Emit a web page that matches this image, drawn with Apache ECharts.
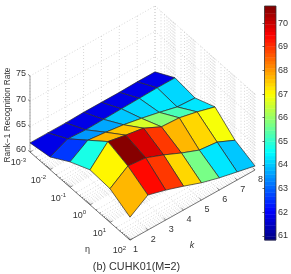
<!DOCTYPE html>
<html><head><meta charset="utf-8">
<style>html,body{margin:0;padding:0;background:#fff}#c{width:291px;height:274px}</style>
<script src="https://cdn.jsdelivr.net/npm/echarts@6/dist/echarts.min.js"></script>
</head><body><div id="c"></div>
<script>
// ---- data ----
const kValues = [1,2,3,4,5,6,7,8];
const etaExponents = [-3,-2,-1,0,1,2];
const zTicks = [60,65,70,75];
const colorTicks = [61,62,63,64,65,66,67,68,69,70];
const colorMin = 60.83, colorMax = 70.72;
// surface height, one row per eta, one value per k
const rowEtaM3 = [61.8,61.8,61.8,61.9,61.9,61.9,62.0,62.0];
const rowEtaM2 = [62.5,64.1,63.9,64.0,64.1,64.2,64.3,64.3];
const rowEtaM1 = [65.0,67.3,66.9,66.4,65.7,64.9,64.0,63.8];
const rowEta0  = [66.9,70.5,69.8,69.2,67.5,67.3,66.5,65.5];
const rowEta1  = [66.65,69.15,68.8,67.4,65.8,64.4,64.0,62.4];
const rowEta2  = [64.5,66.9,65.9,64.7,63.4,62.4,61.6,60.8];
// colour value of each facet
const cellRow0 = [61.8,61.8,61.8,61.8,61.8,61.8,61.8];
const cellRow1 = [62.6,63.5,63.7,64.0,64.2,64.3,64.2];
const cellRow2 = [64.7,67.7,67.5,66.6,65.8,65.3,64.3];
const cellRow3 = [67.1,70.6,69.9,69.0,67.7,67.4,66.9];
const cellRow4 = [67.7,69.4,69.0,67.4,65.7,64.3,64.0];
const minorLog = [2,3,4,5,6,7,8,9];
// ---- view ----
const heights = [rowEtaM3,rowEtaM2,rowEtaM1,rowEta0,rowEta1,rowEta2];
const cellColors = [cellRow0,cellRow1,cellRow2,cellRow3,cellRow4];
const O=[30,152],Vk=[125,-70],Ve=[100,88],Vz=76;
function proj(k,e,z){
  const a=(k-1)/7,b=e/5,c=(z-60)/15;
  return [O[0]+a*Vk[0]+b*Ve[0], O[1]+a*Vk[1]+b*Ve[1]-c*Vz];
}
function jet(v){
  let t=(v-colorMin)/(colorMax-colorMin);
  let l=Math.min(63,Math.max(0,Math.floor(t*64)));
  t=(l+.5)/64;
  const f=x=>Math.round(255*Math.max(0,Math.min(1,x)));
  return `rgb(${f(Math.min(4*t-1.5,4.5-4*t))},${f(Math.min(4*t-.5,3.5-4*t))},${f(Math.min(4*t+.5,2.5-4*t))})`;
}
// facets, painted back to front
const cells=[];
for(let e=0;e<5;e++)for(let k=6;k>=0;k--){
  cells.push({v:cellColors[e][k],pts:[[k+1,e,heights[e][k]],[k+2,e,heights[e][k+1]],[k+2,e+1,heights[e+1][k+1]],[k+1,e+1,heights[e+1][k]]]});
}
// grid lines
const etaAll=[];
etaExponents.forEach((x,i)=>{etaAll.push(i);if(i<5)minorLog.forEach(m=>etaAll.push(i+Math.log10(m)));});
const gridLines=[];
zTicks.forEach(z=>{gridLines.push([[1,0,z],[8,0,z]]);gridLines.push([[8,0,z],[8,5,z]]);});
kValues.forEach(k=>{gridLines.push([[k,0,60],[k,0,75]]);gridLines.push([[k,0,60],[k,5,60]]);});
etaAll.forEach(e=>{gridLines.push([[8,e,60],[8,e,75]]);gridLines.push([[1,e,60],[8,e,60]]);});
// axes
const axisLines=[[[1,0,60],[1,5,60]],[[1,5,60],[8,5,60]]];
const zAxisLine=[[1,0,60],[1,0,75]];
const ticks=[];
etaAll.forEach(e=>{const l=Number.isInteger(e)?.14:.07;ticks.push([[1,e,60],[1+l,e,60]]);});
kValues.forEach(k=>ticks.push([[k,5,60],[k,4.9,60]]));
zTicks.forEach(z=>ticks.push([[1,0,z],[1,-.1,z]]));
// labels
const font='"Liberation Sans",Arial,sans-serif';
const labels=[];
zTicks.forEach(z=>{const p=proj(1,0,z);labels.push({x:p[0]-4,y:p[1]-2,text:String(z),align:'right',size:9});});
kValues.forEach(k=>{const p=proj(k,5,60);labels.push({x:p[0]+5.5,y:p[1]+10,text:String(k),align:'center',size:9});});
etaExponents.forEach((x,i)=>{const p=proj(1,i,60);labels.push({x:p[0]-4,y:p[1]+11,text:`{b|10}{s|${x}}`,rich:{b:{fontSize:9,fontFamily:font,fill:'#333'},s:{fontSize:6,fontFamily:font,fill:'#333',padding:[0,0,6,0]}},align:'right',size:9});});
labels.push({x:87.5,y:250,text:'η',align:'center',size:9});
labels.push({x:192,y:245,text:'k',align:'center',size:9,italic:true});
labels.push({x:8,y:115,text:'Rank−1 Recognition Rate',align:'center',size:8.3,rotate:Math.PI/2});
labels.push({x:136.5,y:267,text:'(b) CUHK01(M=2)',align:'center',size:10.8});
// colour bar bands
const bandLevels=[];for(let i=0;i<64;i++)bandLevels.push(i);
const stepC=(colorMax-colorMin)/64;

function lineSeries(list,style){
  return {type:'custom',coordinateSystem:'cartesian2d',xAxisIndex:0,yAxisIndex:0,silent:true,clip:false,
    data:list.map((l,i)=>[i,0]),encode:{x:0,y:1},
    renderItem(p,api){
      const l=list[p.dataIndex];
      const a=api.coord(proj(...l[0])),b=api.coord(proj(...l[1]));
      return {type:'line',shape:{x1:a[0],y1:a[1],x2:b[0],y2:b[1]},style};
    }};
}
const option={
  animation:false,
  grid:[{left:0,top:0,width:291,height:274,show:false},{left:264.5,top:6,width:12.5,height:234,show:false}],
  xAxis:[{type:'value',gridIndex:0,min:0,max:291,show:false},{type:'value',gridIndex:1,min:0,max:1,show:false}],
  yAxis:[
    {type:'value',gridIndex:0,min:0,max:274,inverse:true,show:false},
    {type:'value',gridIndex:1,min:colorMin,max:colorMax,position:'right',splitLine:{show:false},
     axisLine:{show:false},axisTick:{show:true,inside:true,length:2,customValues:colorTicks,lineStyle:{color:'#333',width:.7}},
     axisLabel:{show:true,customValues:colorTicks,margin:2,fontSize:9,fontFamily:font,color:'#333',formatter:v=>String(v)}},
    {type:'value',gridIndex:1,min:colorMin,max:colorMax,position:'left',splitLine:{show:false},
     axisLine:{show:false},axisTick:{show:true,inside:true,length:2,customValues:colorTicks,lineStyle:{color:'#333',width:.7}},
     axisLabel:{show:false}}
  ],
  series:[
    lineSeries(gridLines,{stroke:'#b0b0b0',lineWidth:.5,lineDash:[1,2]}),
    lineSeries(axisLines,{stroke:'#555',lineWidth:.8}),
    lineSeries([zAxisLine],{stroke:'#888',lineWidth:.8}),
    lineSeries(ticks,{stroke:'#555',lineWidth:.7}),
    {type:'custom',coordinateSystem:'cartesian2d',xAxisIndex:0,yAxisIndex:0,silent:true,clip:false,
     data:cells.map((c,i)=>[i,c.v]),encode:{x:0,y:1},
     renderItem(p,api){
       const c=cells[p.dataIndex];
       return {type:'polygon',shape:{points:c.pts.map(q=>api.coord(proj(...q)))},
         style:{fill:jet(c.v),stroke:'#2a2a2a',lineWidth:.7}};
     }},
    {type:'custom',coordinateSystem:'cartesian2d',xAxisIndex:0,yAxisIndex:0,silent:true,clip:false,
     data:labels.map((l,i)=>[i,0]),encode:{x:0,y:1},
     renderItem(p,api){
       const l=labels[p.dataIndex];
       const c=api.coord([l.x,l.y]);
       const st={text:l.text,x:0,y:0,fill:'#333',align:l.align,verticalAlign:'middle',
         font:`${l.italic?'italic ':''}${l.size}px ${font}`};
       if(l.rich)st.rich=l.rich;
       return {type:'text',x:c[0],y:c[1],rotation:l.rotate||0,style:st};
     }},
    {type:'custom',coordinateSystem:'cartesian2d',xAxisIndex:1,yAxisIndex:1,silent:true,clip:false,
     data:bandLevels.map(i=>[0,colorMin+i*stepC]),encode:{x:0,y:1},
     renderItem(p,api){
       const i=bandLevels[p.dataIndex];
       const v=colorMin+i*stepC;
       const a=api.coord([0,v+stepC]),b=api.coord([1,v]);
       return {type:'rect',shape:{x:a[0],y:a[1],width:b[0]-a[0],height:b[1]-a[1]+.4},style:{fill:jet(v+stepC/2)}};
     }},
    {type:'custom',coordinateSystem:'cartesian2d',xAxisIndex:1,yAxisIndex:1,silent:true,clip:false,z:5,
     data:[[0,colorMin]],encode:{x:0,y:1},
     renderItem(p,api){
       const a=api.coord([0,colorMax]),b=api.coord([1,colorMin]);
       return {type:'rect',shape:{x:a[0],y:a[1],width:b[0]-a[0],height:b[1]-a[1]},style:{fill:'none',stroke:'#333',lineWidth:.8}};
     }}
  ]
};
const chart=echarts.init(document.getElementById('c'),null,{renderer:'canvas'});
chart.setOption(option);
</script></body></html>
